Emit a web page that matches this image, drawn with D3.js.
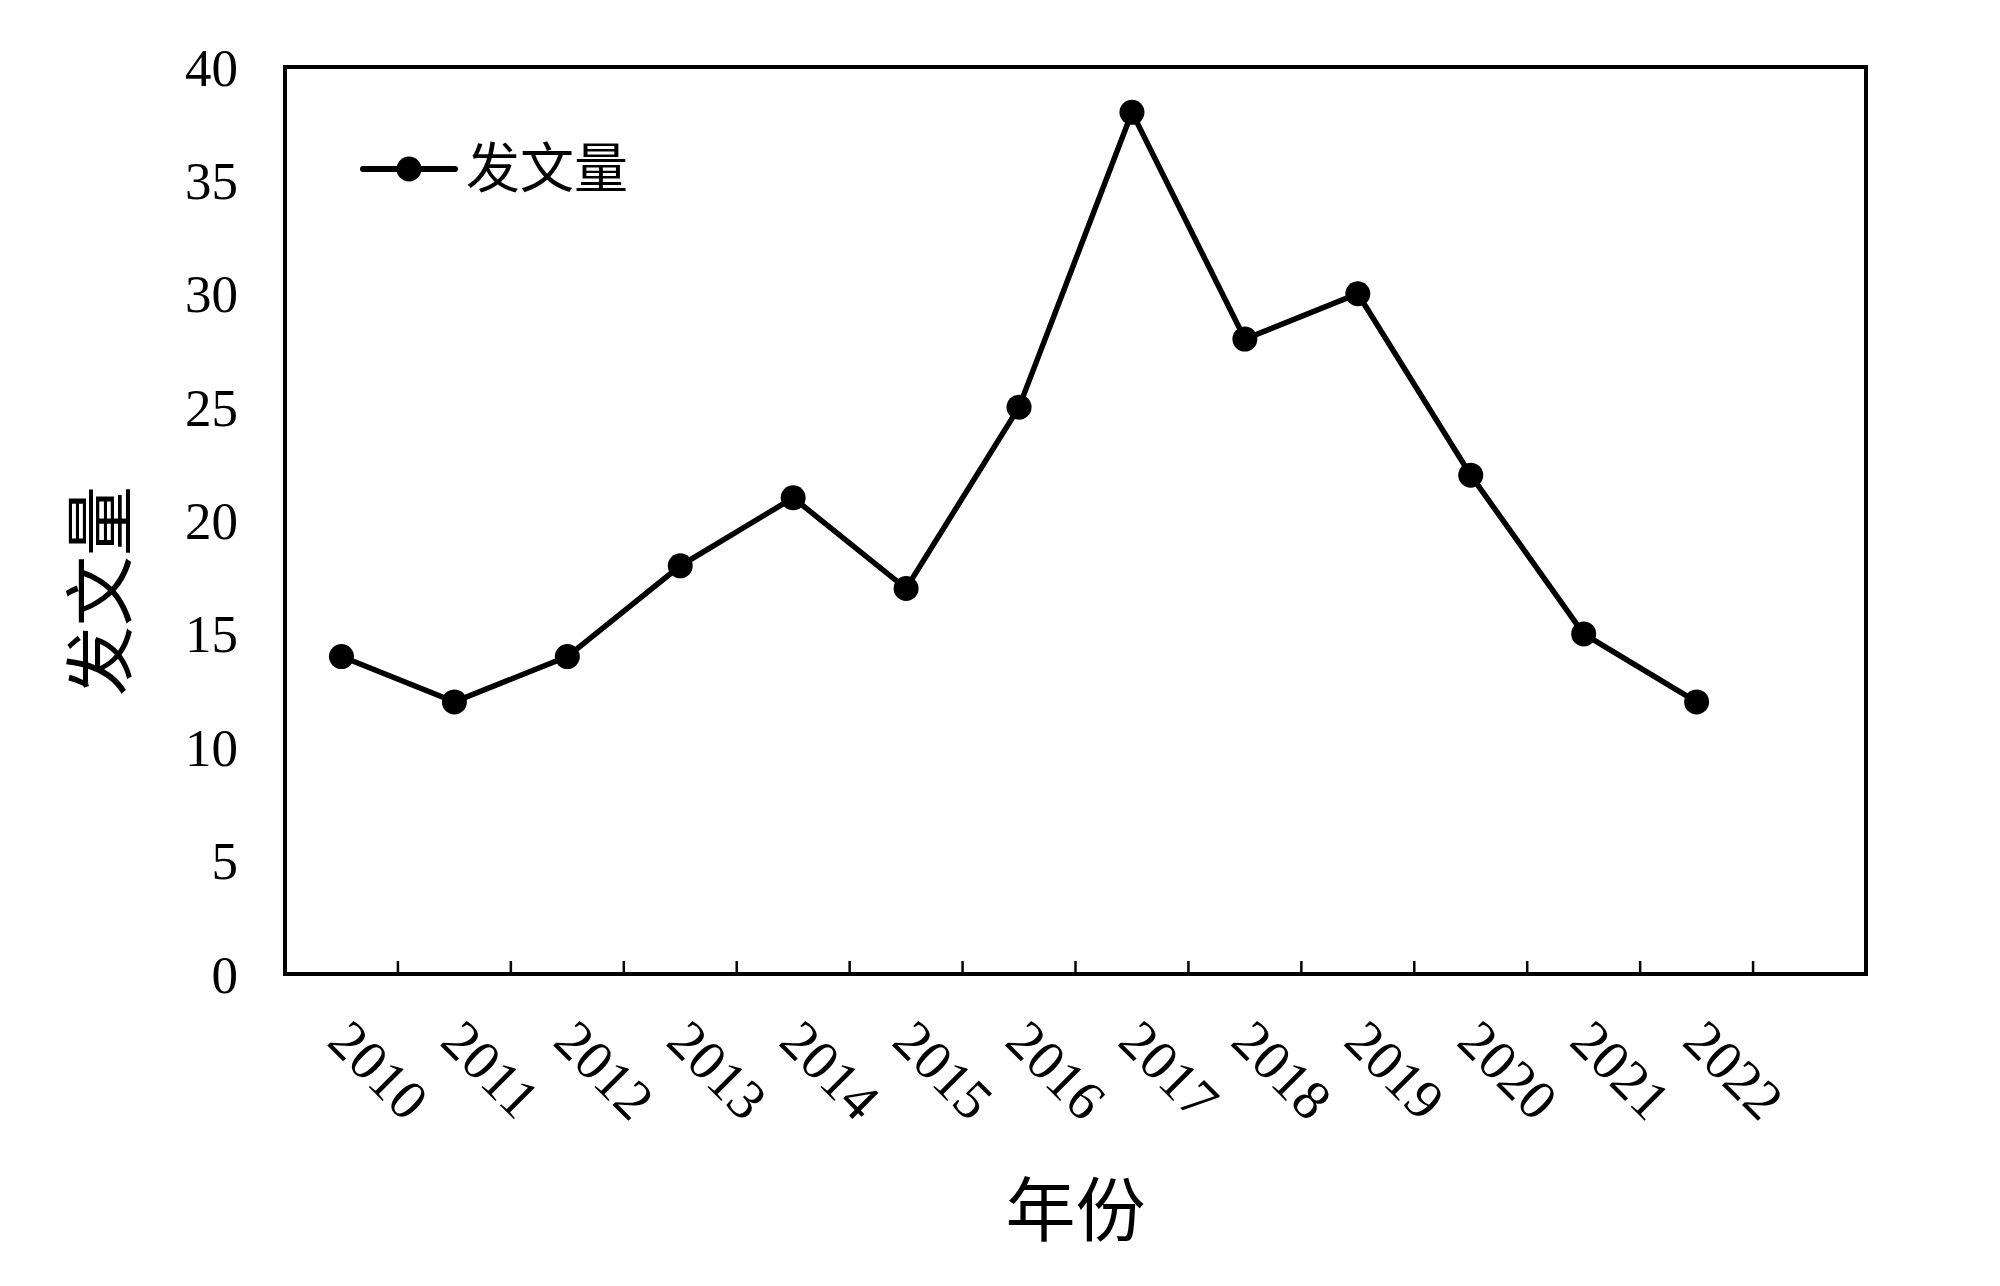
<!DOCTYPE html>
<html>
<head>
<meta charset="utf-8">
<script src="https://cdn.jsdelivr.net/npm/d3@7"></script>
<style>
  body { margin: 0; background: #fff; }
  text { font-family: "Liberation Serif", "Noto Sans CJK SC", serif; fill: #000; }
</style>
</head>
<body>
<svg width="2000" height="1286"></svg>
<script>
// data
var years = ["2010", "2011", "2012", "2013", "2014", "2015", "2016",
             "2017", "2018", "2019", "2020", "2021", "2022"];
var counts = [14, 12, 14, 18, 21, 17, 25, 38, 28, 30, 22, 15, 12];
var yTicks = [0, 5, 10, 15, 20, 25, 30, 35, 40];
var seriesName = "发文量";

var svg = d3.select("svg"),
    margin = {left: 285, top: 67, right: 134, bottom: 312},
    width = 2000 - margin.left - margin.right,
    height = 1286 - margin.top - margin.bottom;

// one empty slot after 2022, as in the original axis
var x = d3.scaleBand()
    .domain(years.concat([""]))
    .range([0, width]);

var y = d3.scaleLinear()
    .domain([0, 40])
    .range([height, 0]);

var g = svg.append("g")
    .attr("transform", "translate(" + margin.left + "," + margin.top + ")");

// tick marks between categories, pointing inward
var bounds = x.domain().slice(1).map(function (d) { return x(d); });
g.append("g")
    .selectAll("line")
    .data(bounds)
    .enter()
    .append("line")
    .attr("x1", function (d) { return d; })
    .attr("x2", function (d) { return d; })
    .attr("y1", height)
    .attr("y2", height - 13)
    .attr("stroke", "#000")
    .attr("stroke-width", 2.5);

// frame
g.append("rect")
    .attr("width", width)
    .attr("height", height)
    .attr("fill", "none")
    .attr("stroke", "#000")
    .attr("stroke-width", 4);

// y labels
var yAxis = d3.axisLeft(y).tickValues(yTicks).tickSize(0).tickPadding(47);
g.append("g")
    .call(yAxis)
    .call(function (a) { a.select(".domain").remove(); })
    .selectAll("text")
    .style("font-size", "53px")
    .attr("dy", "0.34em");

// x labels, rotated 45 degrees
g.append("g")
    .selectAll("text")
    .data(years)
    .enter()
    .append("text")
    .attr("transform", function (d) {
      return "translate(" + (x(d) + x.bandwidth() / 2 - 2) + "," + (height + 56) + ") rotate(45)";
    })
    .attr("text-anchor", "start")
    .attr("dy", "0.35em")
    .style("font-size", "56px")
    .text(function (d) { return d; });

// line + markers
var line = d3.line()
    .x(function (d, i) { return x(years[i]) + x.bandwidth() / 2; })
    .y(function (d) { return y(d); });

g.append("path")
    .datum(counts)
    .attr("d", line)
    .attr("fill", "none")
    .attr("stroke", "#000")
    .attr("stroke-width", 5.5);

g.append("g")
    .selectAll("circle")
    .data(counts)
    .enter()
    .append("circle")
    .attr("cx", function (d, i) { return x(years[i]) + x.bandwidth() / 2; })
    .attr("cy", function (d) { return y(d); })
    .attr("r", 12.5)
    .attr("fill", "#000");

// legend
var leg = g.append("g").attr("transform", "translate(78,102)");
leg.append("line")
    .attr("x1", 0).attr("x2", 92)
    .attr("stroke", "#000").attr("stroke-width", 6)
    .attr("stroke-linecap", "round");
leg.append("circle").attr("cx", 46).attr("r", 12.5).attr("fill", "#000");
leg.append("text")
    .attr("x", 103)
    .attr("dy", "0.35em")
    .style("font-size", "54px")
    .text(seriesName);

// axis titles
svg.append("text")
    .attr("transform", "translate(101,591) rotate(-90)")
    .attr("text-anchor", "middle")
    .attr("dy", "0.35em")
    .style("font-size", "70px")
    .text("发文量");

svg.append("text")
    .attr("x", margin.left + width / 2)
    .attr("y", 1211)
    .attr("text-anchor", "middle")
    .attr("dy", "0.35em")
    .style("font-size", "70px")
    .text("年份");
</script>
</body>
</html>
